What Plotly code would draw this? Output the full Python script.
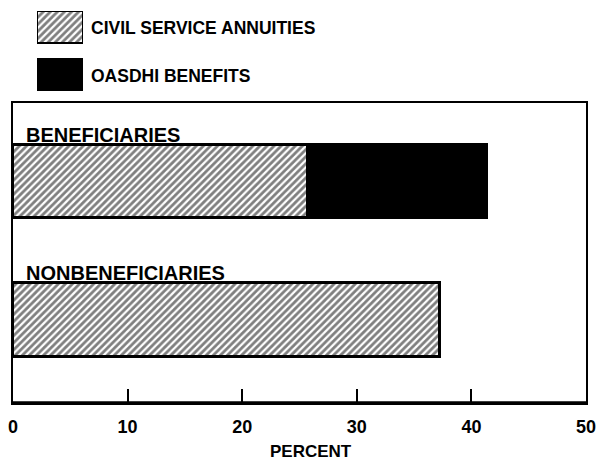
import plotly.graph_objects as go

categories = ["NONBENEFICIARIES", "BENEFICIARIES"]
civil_service = [37.3, 25.7]
oasdhi = [0, 15.7]
series_names = ["CIVIL SERVICE ANNUITIES", "OASDHI BENEFITS"]
tick_vals = [0, 10, 20, 30, 40, 50]
x_title = "PERCENT"

FONT = "Liberation Sans"
hatch = dict(shape="/", size=5, solidity=0.55, fgcolor="black", bgcolor="white")

fig = go.Figure()
fig.add_trace(go.Bar(
    y=categories, x=civil_service, orientation="h", width=0.53,
    marker=dict(color="white", pattern=hatch, line=dict(color="black", width=3)),
    name=series_names[0], showlegend=False,
))
fig.add_trace(go.Bar(
    y=categories, x=oasdhi, orientation="h", width=0.53,
    marker=dict(color="black", line=dict(color="black", width=3)),
    name=series_names[1], showlegend=False,
))

# legend swatches drawn on a small auxiliary axis
fig.add_trace(go.Bar(
    y=[1], x=[1], orientation="h", width=0.68, xaxis="x2", yaxis="y2",
    marker=dict(color="white", pattern=hatch, line=dict(color="black", width=2)),
    showlegend=False, hoverinfo="skip",
))
fig.add_trace(go.Bar(
    y=[0], x=[1], orientation="h", width=0.68, xaxis="x2", yaxis="y2",
    marker=dict(color="black", line=dict(color="black", width=2)),
    showlegend=False, hoverinfo="skip",
))

for i, name in enumerate(series_names):
    fig.add_annotation(
        x=1, y=1 - i, xref="x2", yref="y2", text=name,
        showarrow=False, xanchor="left", yanchor="middle", xshift=6, yshift=-1,
        font=dict(family=FONT, size=17.5, color="black", weight="bold"),
    )

for c in categories:
    fig.add_annotation(
        x=0, y=c, xref="x", yref="y", text=c, showarrow=False,
        xanchor="left", yanchor="bottom", yshift=34, xshift=11,
        font=dict(family=FONT, size=20, color="black", weight="bold"),
    )

fig.add_annotation(
    x=(311 - 13) / 573, y=-48 / 300, xref="paper", yref="y domain",
    text=x_title, showarrow=False, xanchor="center", yanchor="middle",
    font=dict(family=FONT, size=17, color="black", weight="bold"),
)

fig.add_shape(type="line", xref="x domain", yref="y domain", x0=0, x1=1, y0=0, y1=0,
              line=dict(color="black", width=3.5))

fig.update_layout(
    width=599, height=461,
    margin=dict(l=13, r=13, t=0, b=58),
    paper_bgcolor="white", plot_bgcolor="white",
    barmode="stack", bargap=0,
    showlegend=False,
    xaxis=dict(
        range=[0, 50], tickvals=tick_vals, ticks="inside", ticklen=14,
        tickwidth=2, tickcolor="black", showline=True, linewidth=2,
        linecolor="black", mirror=True, showgrid=False, zeroline=False,
        tickfont=dict(family=FONT, size=18, color="black", weight="bold"),
        ticklabelstandoff=6,
        automargin=False, fixedrange=True,
    ),
    yaxis=dict(
        domain=[0, 300 / 403], categoryorder="array", categoryarray=categories,
        range=[-0.6, 1.57], showticklabels=False, ticks="", showline=True,
        linewidth=2, linecolor="black", mirror=True, showgrid=False,
        zeroline=False, fixedrange=True, automargin=False,
    ),
    xaxis2=dict(
        domain=[24 / 573, 70 / 573], range=[0, 1], anchor="y2", visible=False,
        fixedrange=True,
    ),
    yaxis2=dict(
        domain=[(403 - 91) / 403, (403 - 11) / 403], range=[-0.35, 1.35],
        anchor="x2", visible=False, fixedrange=True,
    ),
)

fig.write_html(
    "out.html",
    config={"displayModeBar": False},
    post_script="document.body.style.margin='0';document.body.style.overflow='hidden';",
)
